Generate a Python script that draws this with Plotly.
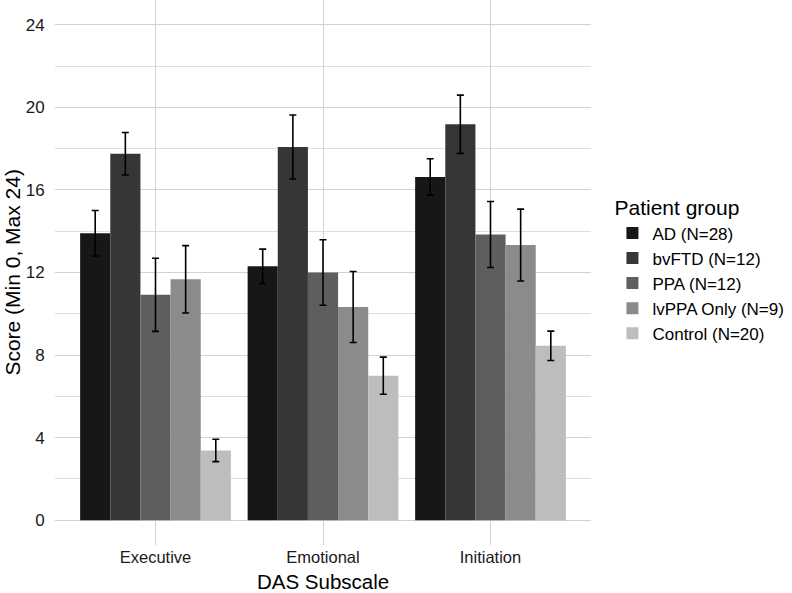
import plotly.graph_objects as go

subscales = ["Executive", "Emotional", "Initiation"]
groups = ["AD (N=28)", "bvFTD (N=12)", "PPA (N=12)", "lvPPA Only (N=9)", "Control (N=20)"]
colors = ["#171717", "#363636", "#5e5e5e", "#8b8b8b", "#bdbdbd"]

# mean scores per group, order: Executive, Emotional, Initiation
ad_mean = [13.9, 12.3, 16.63]
bvftd_mean = [17.75, 18.08, 19.18]
ppa_mean = [10.92, 12.0, 13.84]
lvppa_mean = [11.67, 10.33, 13.33]
control_mean = [3.38, 7.0, 8.45]

# standard errors
ad_se = [1.1, 0.83, 0.88]
bvftd_se = [1.03, 1.55, 1.41]
ppa_se = [1.77, 1.59, 1.6]
lvppa_se = [1.63, 1.72, 1.74]
control_se = [0.54, 0.9, 0.71]

means = [ad_mean, bvftd_mean, ppa_mean, lvppa_mean, control_mean]
ses = [ad_se, bvftd_se, ppa_se, lvppa_se, control_se]

y_ticks = [0, 4, 8, 12, 16, 20, 24]

FONT = "Liberation Sans, Arial, sans-serif"

fig = go.Figure()
for g, c, m, s in zip(groups, colors, means, ses):
    fig.add_trace(go.Bar(
        name=g, x=subscales, y=m,
        marker=dict(color=c, line=dict(width=0)),
        error_y=dict(type="data", array=s, visible=True, color="black",
                     thickness=1.6, width=3.5),
    ))

fig.update_layout(
    width=792, height=593,
    margin=dict(l=55, r=201, t=0, b=48),
    paper_bgcolor="white", plot_bgcolor="white",
    barmode="group", bargap=0.1, bargroupgap=0,
    font=dict(family=FONT, color="black", size=17),
    legend=dict(
        title=dict(text="Patient group", font=dict(size=21, color="black")),
        font=dict(size=17, color="black"),
        x=1.04, xanchor="left", y=0.655, yanchor="top",
        tracegroupgap=0, bgcolor="rgba(0,0,0,0)",
    ),
    xaxis=dict(
        range=[-0.6, 2.6], showgrid=True, gridcolor="#d2d2d2", gridwidth=1.4,
        zeroline=False, showline=False, automargin=False,
        ticks="",
        tickfont=dict(size=16.5, color="#1a1a1a"),
    ),
    yaxis=dict(
        range=[-1.2, 25.2], tickvals=y_ticks, showgrid=True,
        gridcolor="#d2d2d2", gridwidth=1.4, zeroline=False, showline=False,
        automargin=False,
        minor=dict(dtick=2, tick0=0, showgrid=True, gridcolor="#dedede", gridwidth=0.8),
        ticks="outside", ticklen=6, tickcolor="rgba(0,0,0,0)",
        tickfont=dict(size=17, color="#1a1a1a"),
    ),
    annotations=[
        dict(text="DAS Subscale", xref="paper", yref="paper", x=0.5, y=-0.067,
             xanchor="center", yanchor="middle", showarrow=False,
             font=dict(size=20.5, color="black")),
        dict(text="Score (Min 0, Max 24)", xref="paper", yref="paper", x=-0.08, y=0.5,
             xanchor="center", yanchor="middle", textangle=-90, showarrow=False,
             font=dict(size=21, color="black")),
    ],
)

fig.write_html("out.html", config={"displayModeBar": False},
               post_script="document.body.style.margin='0';")
